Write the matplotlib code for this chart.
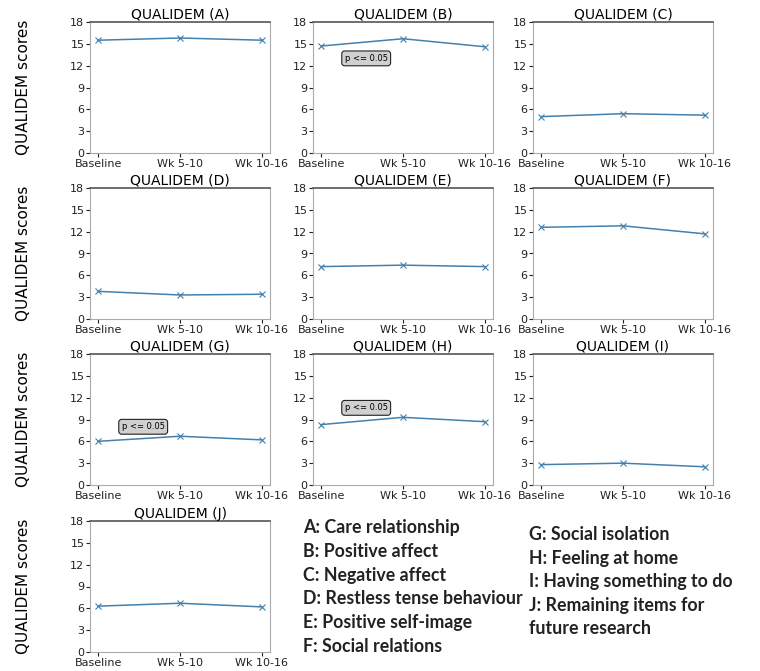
import matplotlib
matplotlib.use("Agg")
import matplotlib.pyplot as plt

timepoints = ["Baseline", "Wk 5-10", "Wk 10-16"]
panels = ["A", "B", "C", "D", "E", "F", "G", "H", "I", "J"]
score_A = [15.5, 15.8, 15.5]
score_B = [14.7, 15.7, 14.6]
score_C = [5.0, 5.4, 5.2]
score_D = [3.8, 3.3, 3.4]
score_E = [7.2, 7.4, 7.2]
score_F = [12.6, 12.8, 11.7]
score_G = [6.0, 6.7, 6.2]
score_H = [8.3, 9.3, 8.7]
score_I = [2.8, 3.0, 2.5]
score_J = [6.3, 6.7, 6.2]
scores = [score_A, score_B, score_C, score_D, score_E, score_F,
          score_G, score_H, score_I, score_J]
yticks = [0, 3, 6, 9, 12, 15, 18]
sig_panels = {"B": 13.0, "G": 8.0, "H": 10.6}
legend_left = ["A: Care relationship", "B: Positive affect", "C: Negative affect",
               "D: Restless tense behaviour", "E: Positive self-image", "F: Social relations"]
legend_right = ["G: Social isolation", "H: Feeling at home", "I: Having something to do",
                "J: Remaining items for", "future research"]

W, H = 760, 671
fig = plt.figure(figsize=(W / 100, H / 100), dpi=100)

col_x = [90, 313, 533]
col_w = 180
row_top = [22, 188, 354, 521]
row_h = 131

def ax_rect(c, r):
    x0 = col_x[c] / W
    y0 = 1 - (row_top[r] + row_h) / H
    return [x0, y0, col_w / W, row_h / H]

for i, (p, s) in enumerate(zip(panels, scores)):
    r, c = divmod(i, 3)
    ax = fig.add_axes(ax_rect(c, r))
    ax.plot(range(len(timepoints)), s, color="#4580ad", marker="x", markersize=4,
            markeredgewidth=0.8, linewidth=1.1)
    ax.set_ylim(0, 18)
    ax.set_yticks(yticks)
    ax.set_xticks(range(len(timepoints)))
    ax.set_xticklabels(timepoints)
    ax.set_xlim(-0.1, 2.1)
    ax.tick_params(labelsize=8, length=3, pad=1, colors="#222222")
    ax.set_title(f"QUALIDEM ({p})", fontsize=10, pad=2)
    for side in ["left", "right", "bottom"]:
        ax.spines[side].set_color("#aaaaaa")
    ax.spines["top"].set_color("#555555")
    ax.spines["top"].set_linewidth(1.2)
    if p in sig_panels:
        ax.text(0.55, sig_panels[p], "p <= 0.05", fontsize=6, ha="center", va="center",
                bbox=dict(boxstyle="round,pad=0.35", fc="#d0d0d0", ec="#222222", lw=0.8))
    if c == 0:
        ax.set_ylabel("QUALIDEM scores", fontsize=11, labelpad=28)

fs = 12.8
for k, t in enumerate(legend_left):
    fig.text(303 / W, 1 - (528 + 23.6 * k) / H, t, fontsize=fs, fontweight="bold",
             family="Lato", ha="left", va="center", color="#222222")
for k, t in enumerate(legend_right):
    fig.text(529 / W, 1 - (535 + 23.5 * k) / H, t, fontsize=fs, fontweight="bold",
             family="Lato", ha="left", va="center", color="#222222")

fig.savefig("out.png", dpi=100)
